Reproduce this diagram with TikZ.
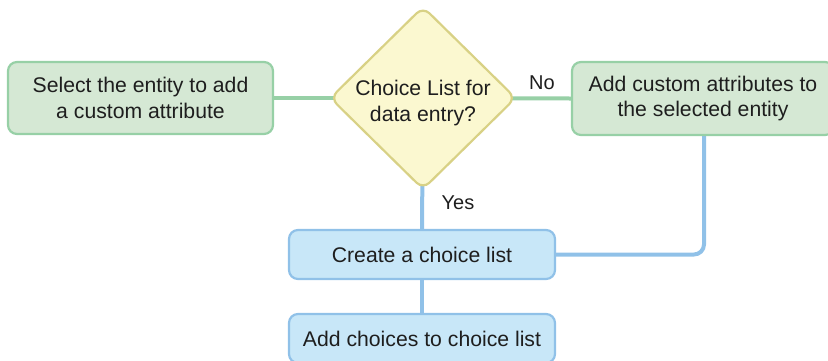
\documentclass[tikz,border=0pt]{standalone}
\usepackage{fontspec}
\setmainfont{Liberation Sans}
\usetikzlibrary{shapes.geometric,backgrounds}
\definecolor{gfill}{HTML}{D5E8D4}
\definecolor{gline}{HTML}{97D0A6}
\definecolor{yfill}{HTML}{FBF8D0}
\definecolor{yline}{HTML}{D8D185}
\definecolor{bfill}{HTML}{C8E7F8}
\definecolor{bline}{HTML}{90C1E8}
\definecolor{txt}{HTML}{1E1E1E}
\begin{document}
\begin{tikzpicture}[x=1pt,y=-1pt,
  every node/.style={font=\fontsize{21.2}{25.5}\selectfont, text=txt, align=center},
  gbox/.style={draw=gline, fill=gfill, line width=2.2pt, rounded corners=9pt, inner sep=0pt},
  bbox/.style={draw=bline, fill=bfill, line width=2.2pt, rounded corners=9pt, inner sep=0pt},
  dbox/.style={diamond, draw=yline, fill=yfill, line width=2.2pt, rounded corners=9pt, inner sep=0pt, minimum width=186pt, minimum height=183pt},
  gconn/.style={draw=gline, line width=4pt},
  bconn/.style={draw=bline, line width=4pt, rounded corners=10pt},
  lbl/.style={font=\fontsize{20}{24}\selectfont, inner sep=0pt}]
\useasboundingbox (0,0) rectangle (828,360);
\clip (0,0) rectangle (828,360);
\node[gbox, minimum width=265pt, minimum height=72pt] (sel) at (140.5,98) {Select the entity to add\\a custom attribute};
\node[gbox, minimum width=262pt, minimum height=73pt] (addc) at (703,98.5) {Add custom attributes to\\the selected entity};
\node[bbox, minimum width=266pt, minimum height=49pt] (create) at (422,254.5) {Create a choice list};
\node[bbox, minimum width=266pt, minimum height=49pt] (addch) at (422,338.5) {Add choices to choice list};
\node[dbox] (dec) at (423,98) {};
\node (dectext) at (423,103) {Choice List for\\data entry?};
\coordinate (ac) at (704,134);
\begin{scope}[on background layer]
\draw[gconn] (sel.east) -- (dec.center);
\draw[gconn] (dec.center) -- (addc.west);
\draw[bconn] (dec.center) -- (create.north);
\draw[bconn] (create.south) -- (addch.north);
\draw[bconn] (create.east) -| (ac);
\end{scope}
\node[lbl] (no) at (542,83) {No};
\node[lbl] (yes) at (458,203) {Yes};
\end{tikzpicture}
\end{document}
